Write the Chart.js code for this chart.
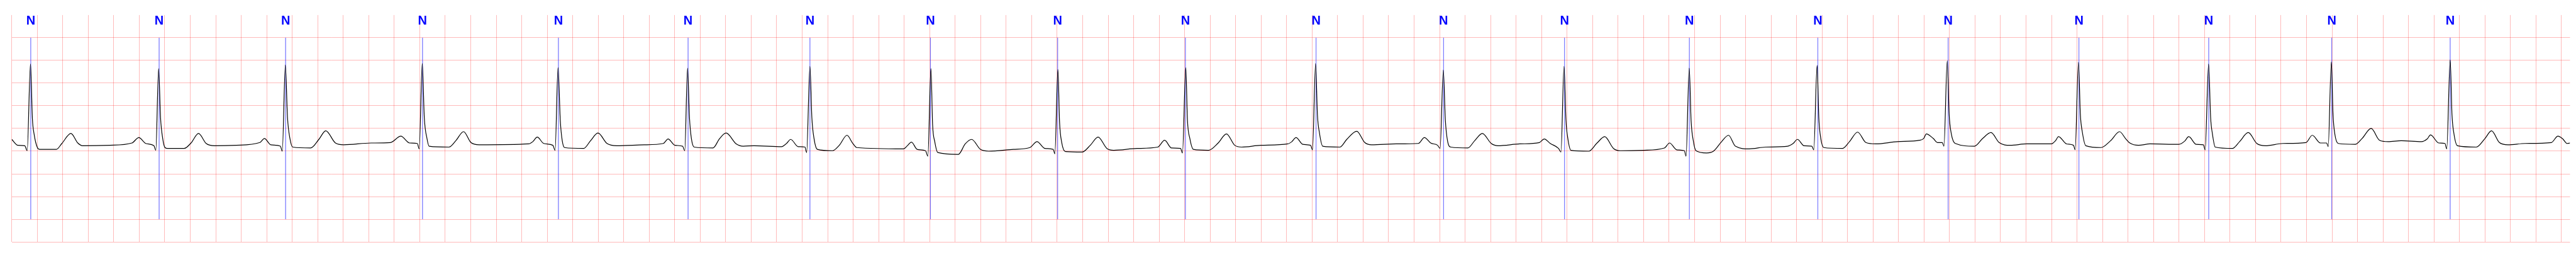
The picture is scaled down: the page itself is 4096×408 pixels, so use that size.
<!DOCTYPE html>
<html>
<head>
<meta charset="utf-8">
<title>ECG strip</title>
<script src="https://cdn.jsdelivr.net/npm/chart.js@4/dist/chart.umd.min.js"></script>
<style>
  html, body { margin: 0; padding: 0; background: #fff; }
  #wrap { width: 4096px; height: 408px; }
</style>
</head>
<body>
<div id="wrap"><canvas id="ecgChart" width="4096" height="408"></canvas></div>
<script>
// signal: time in seconds, amplitude in mV
const ecgTime = [
  0.000, 0.048, 0.102, 0.121, 0.147, 0.162, 0.175, 0.201, 0.220, 0.350, 0.393, 0.464, 0.518, 0.555, 0.770, 0.943, 0.997, 1.051, 1.115,
  1.130, 1.152, 1.167, 1.184, 1.202, 1.223, 1.352, 1.406, 1.465, 1.525, 1.590, 1.762, 1.946, 1.982, 2.032, 2.107,
  2.122, 2.146, 2.163, 2.182, 2.204, 2.344, 2.409, 2.463, 2.539, 2.603, 2.819, 2.970, 3.052, 3.121, 3.181,
  3.196, 3.220, 3.236, 3.257, 3.274, 3.429, 3.483, 3.544, 3.602, 3.667, 4.055, 4.087, 4.122, 4.173, 4.244,
  4.262, 4.285, 4.303, 4.318, 4.336, 4.486, 4.540, 4.598, 4.669, 4.745, 4.960, 5.111, 5.148, 5.202, 5.262,
  5.279, 5.301, 5.316, 5.331, 5.353, 5.500, 5.553, 5.603, 5.683, 5.737, 5.823, 6.039, 6.077, 6.110, 6.168, 6.222,
  6.235, 6.261, 6.276, 6.293, 6.319, 6.438, 6.491, 6.552, 6.595, 6.628, 6.994, 7.025, 7.057, 7.102, 7.167,
  7.186, 7.210, 7.223, 7.240, 7.264, 7.425, 7.479, 7.529, 7.598, 7.662, 7.857, 7.986, 8.042, 8.105, 8.169,
  8.182, 8.206, 8.219, 8.236, 8.266, 8.396, 8.460, 8.521, 8.590, 8.644, 8.827, 8.989, 9.043, 9.097, 9.168,
  9.183, 9.209, 9.222, 9.241, 9.269, 9.388, 9.463, 9.528, 9.593, 9.647, 9.798, 10.009, 10.041, 10.074, 10.128, 10.188,
  10.203, 10.227, 10.242, 10.257, 10.283, 10.418, 10.472, 10.550, 10.613, 10.666, 10.860, 11.033, 11.081, 11.130, 11.184,
  11.204, 11.229, 11.245, 11.262, 11.288, 11.421, 11.475, 11.535, 11.605, 11.658, 11.831, 11.982, 12.021, 12.068, 12.133,
  12.152, 12.176, 12.191, 12.206, 12.230, 12.370, 12.435, 12.495, 12.564, 12.618, 12.801, 12.963, 13.004, 13.060, 13.120,
  13.133, 13.158, 13.173, 13.190, 13.211, 13.294, 13.348, 13.412, 13.466, 13.520, 13.628, 13.757, 13.930, 13.973, 14.007, 14.059, 14.120,
  14.135, 14.161, 14.175, 14.190, 14.214, 14.361, 14.415, 14.479, 14.544, 14.620, 14.792, 14.964, 14.997, 15.018, 15.072, 15.105, 15.143,
  15.156, 15.182, 15.197, 15.214, 15.245, 15.395, 15.460, 15.525, 15.589, 15.676, 15.805, 15.999, 16.031, 16.055, 16.118, 16.172,
  16.185, 16.211, 16.226, 16.241, 16.269, 16.388, 16.463, 16.534, 16.580, 16.614, 16.682, 16.772, 16.999, 17.044, 17.076, 17.135, 17.191,
  17.205, 17.232, 17.248, 17.262, 17.284, 17.418, 17.475, 17.543, 17.610, 17.678, 17.815, 17.996, 18.045, 18.109, 18.158,
  18.170, 18.195, 18.208, 18.222, 18.249, 18.381, 18.436, 18.507, 18.573, 18.641, 18.743, 18.901, 18.947, 18.973, 19.037, 19.086,
  19.100, 19.127, 19.141, 19.155, 19.184, 19.332, 19.400, 19.451, 19.513, 19.580, 19.716, 19.920, 19.972, 20.010, 20.044, 20.067
];

const ecgMv = [
  -0.24, -0.37, -0.38, -0.49, 1.42, 0.21, -0.12, -0.42, -0.46, -0.46, -0.33, -0.11, -0.32, -0.38, -0.37, -0.32, -0.20, -0.33, -0.38,
  -0.48, 1.32, 0.24, -0.22, -0.42, -0.44, -0.44, -0.32, -0.11, -0.33, -0.38, -0.37, -0.31, -0.22, -0.36, -0.39,
  -0.50, 1.40, 0.24, -0.22, -0.41, -0.43, -0.24, -0.05, -0.32, -0.36, -0.32, -0.31, -0.17, -0.32, -0.33,
  -0.45, 1.43, 0.24, -0.22, -0.39, -0.41, -0.27, -0.07, -0.31, -0.36, -0.34, -0.29, -0.19, -0.33, -0.37,
  -0.48, 1.34, 0.16, -0.27, -0.42, -0.44, -0.27, -0.10, -0.33, -0.38, -0.36, -0.33, -0.23, -0.37, -0.39,
  -0.49, 1.33, 0.24, -0.22, -0.41, -0.43, -0.22, -0.10, -0.34, -0.39, -0.38, -0.40, -0.33, -0.24, -0.40, -0.41,
  -0.53, 1.37, 0.24, -0.22, -0.46, -0.49, -0.37, -0.15, -0.32, -0.42, -0.45, -0.38, -0.30, -0.46, -0.49,
  -0.61, 1.32, 0.09, -0.29, -0.53, -0.57, -0.34, -0.24, -0.46, -0.50, -0.46, -0.42, -0.29, -0.44, -0.46,
  -0.56, 1.30, 0.14, -0.31, -0.51, -0.52, -0.37, -0.19, -0.44, -0.48, -0.44, -0.41, -0.26, -0.43, -0.44,
  -0.54, 1.34, 0.19, -0.22, -0.46, -0.48, -0.32, -0.12, -0.37, -0.41, -0.37, -0.34, -0.29, -0.20, -0.35, -0.37,
  -0.47, 1.43, 0.29, -0.09, -0.39, -0.41, -0.24, -0.06, -0.31, -0.36, -0.34, -0.33, -0.20, -0.32, -0.37,
  -0.44, 1.29, 0.19, -0.27, -0.41, -0.43, -0.27, -0.11, -0.33, -0.38, -0.34, -0.31, -0.23, -0.33, -0.44,
  -0.52, 1.37, 0.19, -0.22, -0.48, -0.50, -0.32, -0.18, -0.44, -0.49, -0.48, -0.43, -0.32, -0.47, -0.49,
  -0.61, 1.33, 0.16, -0.27, -0.49, -0.54, -0.50, -0.29, -0.15, -0.39, -0.45, -0.41, -0.39, -0.33, -0.24, -0.38, -0.39,
  -0.47, 1.39, 0.21, -0.22, -0.42, -0.44, -0.29, -0.08, -0.31, -0.34, -0.29, -0.26, -0.22, -0.12, -0.22, -0.31, -0.31,
  -0.39, 1.49, 0.31, -0.12, -0.33, -0.39, -0.22, -0.09, -0.31, -0.37, -0.34, -0.34, -0.27, -0.18, -0.34, -0.37,
  -0.47, 1.46, 0.31, -0.07, -0.38, -0.42, -0.27, -0.07, -0.22, -0.32, -0.37, -0.34, -0.35, -0.28, -0.18, -0.35, -0.36,
  -0.47, 1.42, 0.24, -0.12, -0.41, -0.44, -0.29, -0.09, -0.33, -0.38, -0.33, -0.31, -0.15, -0.32, -0.32,
  -0.40, 1.47, 0.31, -0.12, -0.33, -0.35, -0.22, 0.00, -0.26, -0.29, -0.27, -0.29, -0.23, -0.14, -0.32, -0.33,
  -0.45, 1.51, 0.31, -0.09, -0.38, -0.41, -0.22, -0.05, -0.31, -0.36, -0.33, -0.31, -0.17, -0.23, -0.33, -0.32
];

// beat annotations
const beatTime = [
  0.149, 1.156, 2.148, 3.222, 4.288, 5.305, 6.261, 7.206, 8.204, 9.206,
  10.231, 11.231, 12.180, 13.159, 14.167, 15.189, 16.215, 17.233, 18.198, 19.127
];
const beatLabel = [
  'N', 'N', 'N', 'N', 'N', 'N', 'N', 'N', 'N', 'N',
  'N', 'N', 'N', 'N', 'N', 'N', 'N', 'N', 'N', 'N'
];

// axis ranges (s / mV) and grid steps
const xMin = 0;
const xMax = 20.067;
const xStep = 0.2;
const yMin = -2.5;
const yMax = 2.499;
const yStep = 0.5;
const markerTop = 2.0;
const markerBottom = -2.0;

const ecgPoints = ecgTime.map((t, i) => ({ x: t, y: ecgMv[i] }));

// one vertical segment per beat, split by gaps
const markerPoints = beatTime.flatMap(t => [
  { x: t, y: markerTop },
  { x: t, y: markerBottom },
  { x: t, y: null }
]);

/**
 * Beat label text above each marker
 */
const beatLabelPlugin = {
  id: 'beatLabels',
  afterDatasetsDraw(chart) {
    const { ctx, chartArea, scales } = chart;
    ctx.save();
    ctx.fillStyle = '#0000ff';
    ctx.font = 'bold 20px "Liberation Sans", Arial, sans-serif';
    ctx.textAlign = 'center';
    ctx.textBaseline = 'alphabetic';
    beatTime.forEach((t, i) => {
      ctx.fillText(beatLabel[i], scales.x.getPixelForValue(t), chartArea.top + 14.7);
    });
    ctx.restore();
  }
};

const gridColor = 'rgba(255, 0, 0, 0.27)';

new Chart(document.getElementById('ecgChart'), {
  type: 'line',
  data: {
    datasets: [
      {
        label: 'ECG',
        data: ecgPoints,
        borderColor: '#000000',
        borderWidth: 1.2,
        pointRadius: 0,
        fill: false,
        cubicInterpolationMode: 'monotone',
        order: 0
      },
      {
        label: 'Beats',
        data: markerPoints,
        borderColor: 'rgba(0, 0, 255, 0.38)',
        borderWidth: 0.7,
        pointRadius: 0,
        fill: false,
        tension: 0,
        spanGaps: false,
        order: 1
      }
    ]
  },
  options: {
    responsive: false,
    animation: false,
    events: [],
    layout: {
      padding: { left: 18.7, right: 9.5, top: 23.9, bottom: 23.9 }
    },
    plugins: {
      legend: { display: false },
      tooltip: { enabled: false }
    },
    scales: {
      x: {
        type: 'linear',
        min: xMin,
        max: xMax,
        ticks: { display: false, stepSize: xStep, includeBounds: false },
        grid: { color: gridColor, lineWidth: 1, drawTicks: false },
        border: { display: false }
      },
      y: {
        type: 'linear',
        min: yMin,
        max: yMax,
        ticks: { display: false, stepSize: yStep, includeBounds: false },
        grid: { color: gridColor, lineWidth: 1, drawTicks: false },
        border: { display: false }
      }
    }
  },
  plugins: [beatLabelPlugin]
});
</script>
</body>
</html>
